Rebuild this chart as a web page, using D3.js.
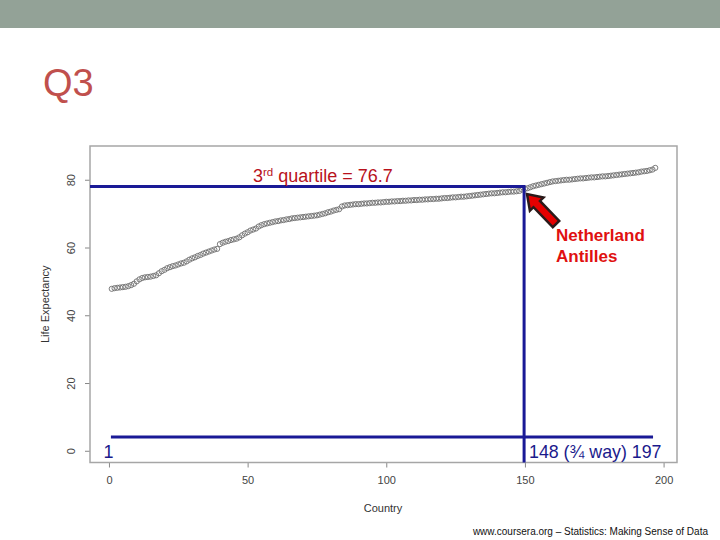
<!DOCTYPE html>
<html><head><meta charset="utf-8">
<script src="https://cdn.jsdelivr.net/npm/d3@7"></script>
<style>body{margin:0;background:#fff} svg{display:block;font-family:"Liberation Sans",Arial,sans-serif}</style>
</head><body><svg id="c" width="720" height="540"></svg>
<script>
// Sorted life expectancy of 197 countries
const lifeExpectancy = [
 47.8, 48.0, 48.1, 48.2, 48.3, 48.4, 48.6, 48.9, 49.3, 50.0,
 50.6, 51.0, 51.2, 51.3, 51.4, 51.6, 51.8, 52.4, 53.0, 53.4,
 53.9, 54.2, 54.5, 54.7, 55.0, 55.3, 55.5, 55.9, 56.4, 56.8,
 57.1, 57.5, 57.8, 58.2, 58.5, 58.8, 59.1, 59.4, 59.6, 61.0,
 61.4, 61.7, 61.9, 62.2, 62.4, 62.6, 63.0, 63.6, 64.1, 64.5,
 65.0, 65.3, 65.6, 66.2, 66.6, 66.9, 67.1, 67.3, 67.5, 67.7,
 67.8, 68.0, 68.1, 68.3, 68.4, 68.6, 68.7, 68.8, 68.9, 69.0,
 69.1, 69.2, 69.3, 69.4, 69.5, 69.7, 69.9, 70.1, 70.4, 70.6,
 70.9, 71.1, 71.3, 72.1, 72.4, 72.5, 72.6, 72.7, 72.8, 72.8,
 72.9, 73.0, 73.0, 73.1, 73.2, 73.2, 73.3, 73.3, 73.4, 73.5,
 73.5, 73.6, 73.6, 73.7, 73.7, 73.8, 73.8, 73.9, 73.9, 74.0,
 74.0, 74.1, 74.1, 74.2, 74.2, 74.3, 74.3, 74.4, 74.4, 74.5,
 74.6, 74.6, 74.7, 74.8, 74.8, 74.9, 75.0, 75.0, 75.1, 75.2,
 75.3, 75.4, 75.5, 75.6, 75.7, 75.8, 75.9, 76.0, 76.0, 76.1,
 76.2, 76.3, 76.3, 76.4, 76.5, 76.5, 76.6, 76.7, 77.1, 77.3,
 77.5, 77.8, 78.1, 78.3, 78.5, 78.7, 78.9, 79.1, 79.3, 79.5,
 79.6, 79.7, 79.8, 79.9, 80.0, 80.0, 80.1, 80.2, 80.3, 80.4,
 80.4, 80.5, 80.6, 80.7, 80.7, 80.8, 80.9, 81.0, 81.0, 81.1,
 81.2, 81.3, 81.4, 81.5, 81.6, 81.7, 81.8, 81.9, 82.0, 82.1,
 82.2, 82.4, 82.5, 82.6, 82.8, 83.0, 83.5
];
const xTicks = [0, 50, 100, 150, 200];
const yTicks = [0, 20, 40, 60, 80];
const xDomain = [-6.84, 204.84];
const yDomain = [-3.46, 89.96];
const titleText = "Q3";
const xLabel = "Country";
const yLabel = "Life Expectancy";
const q3Value = "76.7";
const q3LineLevel = 78.0;     // where the hand-drawn line sits
const q3LineIndex = 149.7;
const bottomLineLevel = 4.1;
const firstIndex = 1;
const lastIndex = 197;
const countLabel = "148 (\u00BE way)";
const pointedCountry = ["Netherland", "Antilles"];
const credit = "www.coursera.org \u2013 Statistics: Making Sense of Data";

const svg = d3.select("#c");
const W = 720, H = 540;
const box = {l: 90, r: 677, t: 146, b: 462.5};

// header bar and title
svg.append("rect").attr("x", 0).attr("y", 0).attr("width", W).attr("height", 28).attr("fill", "#93a297");
svg.append("text").attr("x", 43).attr("y", 96).attr("font-size", 38).attr("fill", "#c0504d").text(titleText);

const x = d3.scaleLinear().domain(xDomain).range([box.l, box.r]);
const y = d3.scaleLinear().domain(yDomain).range([box.b, box.t]);

// axes
const gx = svg.append("g").attr("transform", `translate(0,${box.b})`)
  .call(d3.axisBottom(x).tickValues(xTicks).tickSize(5).tickPadding(9));
const gy = svg.append("g").attr("transform", `translate(${box.l},0)`)
  .call(d3.axisLeft(y).tickValues(yTicks).tickSize(5).tickPadding(0));
[gx, gy].forEach(g => {
  g.select(".domain").remove();
  g.selectAll(".tick line").attr("stroke", "#888");
  g.selectAll(".tick text").attr("fill", "#444").attr("font-size", 11)
    .attr("font-family", "Liberation Sans, Arial, sans-serif");
});
gy.selectAll(".tick text").attr("transform", "rotate(-90)")
  .attr("x", 0).attr("y", -15).attr("dy", 0).attr("text-anchor", "middle");

// box
svg.append("rect").attr("x", box.l).attr("y", box.t).attr("width", box.r - box.l).attr("height", box.b - box.t)
  .attr("fill", "none").attr("stroke", "#a6a6a6").attr("stroke-width", 1.5);

// axis titles
svg.append("text").attr("x", (box.l + box.r) / 2 - 0.5).attr("y", 512).attr("text-anchor", "middle")
  .attr("font-size", 11).attr("fill", "#333").text(xLabel);
svg.append("text").attr("transform", `translate(49,${(box.t + box.b) / 2}) rotate(-90)`).attr("text-anchor", "middle")
  .attr("font-size", 11).attr("fill", "#333").text(yLabel);

// points
svg.append("g").selectAll("circle").data(lifeExpectancy).join("circle")
  .attr("cx", (d, i) => x(i + 1)).attr("cy", d => y(d)).attr("r", 2.6)
  .attr("fill", "none").attr("stroke", "#6e6e6e").attr("stroke-width", 0.9);

// annotation lines
const navy = "#1a1a96";
svg.append("line").attr("x1", x(xDomain[0])).attr("x2", x(q3LineIndex)).attr("y1", y(q3LineLevel)).attr("y2", y(q3LineLevel))
  .attr("stroke", navy).attr("stroke-width", 3);
svg.append("line").attr("x1", x(q3LineIndex)).attr("x2", x(q3LineIndex)).attr("y1", y(q3LineLevel) - 1.5).attr("y2", y(yDomain[0]))
  .attr("stroke", navy).attr("stroke-width", 3);
svg.append("line").attr("x1", x(0.7)).attr("x2", x(196.2)).attr("y1", y(bottomLineLevel)).attr("y2", y(bottomLineLevel))
  .attr("stroke", navy).attr("stroke-width", 3);

// texts
const q3t = svg.append("text").attr("x", 253).attr("y", 182).attr("font-size", 18).attr("fill", "#b8121c");
q3t.append("tspan").text("3");
q3t.append("tspan").attr("font-size", 11.5).attr("dy", -6.5).text("rd");
q3t.append("tspan").attr("dy", 6.5).text(" quartile = " + q3Value);

const nt = svg.append("text").attr("font-size", 17).attr("font-weight", "bold").attr("fill", "#e01010");
nt.append("tspan").attr("x", 556).attr("y", 241).text(pointedCountry[0]);
nt.append("tspan").attr("x", 556).attr("y", 262).text(pointedCountry[1]);

svg.append("text").attr("x", 108.5).attr("y", 458).attr("text-anchor", "middle").attr("font-size", 18)
  .attr("fill", "#1a1a8c").text(firstIndex);
svg.append("text").attr("x", 529).attr("y", 458).attr("font-size", 17.8)
  .attr("fill", "#1a1a8c").text(countLabel + " " + lastIndex);

// arrow (tip at Netherland Antilles)
const tip = [527, 194], tail = [556, 224];
const ang = Math.atan2(tip[1] - tail[1], tip[0] - tail[0]) * 180 / Math.PI;
const L = Math.hypot(tip[0] - tail[0], tip[1] - tail[1]);
const hl = 14, hw = 9.5, sw = 4.5;
const pts = [[0, -sw], [L - hl, -sw], [L - hl, -hw], [L, 0], [L - hl, hw], [L - hl, sw], [0, sw]];
svg.append("path").attr("d", d3.line()(pts) + "Z")
  .attr("transform", `translate(${tail[0]},${tail[1]}) rotate(${ang})`)
  .attr("fill", "#e40000").attr("stroke", "#2a1a1a").attr("stroke-width", 2.5).attr("stroke-linejoin", "miter");

// credit
svg.append("text").attr("x", 708).attr("y", 535).attr("text-anchor", "end").attr("font-size", 10)
  .attr("fill", "#111").text(credit);
</script></body></html>
